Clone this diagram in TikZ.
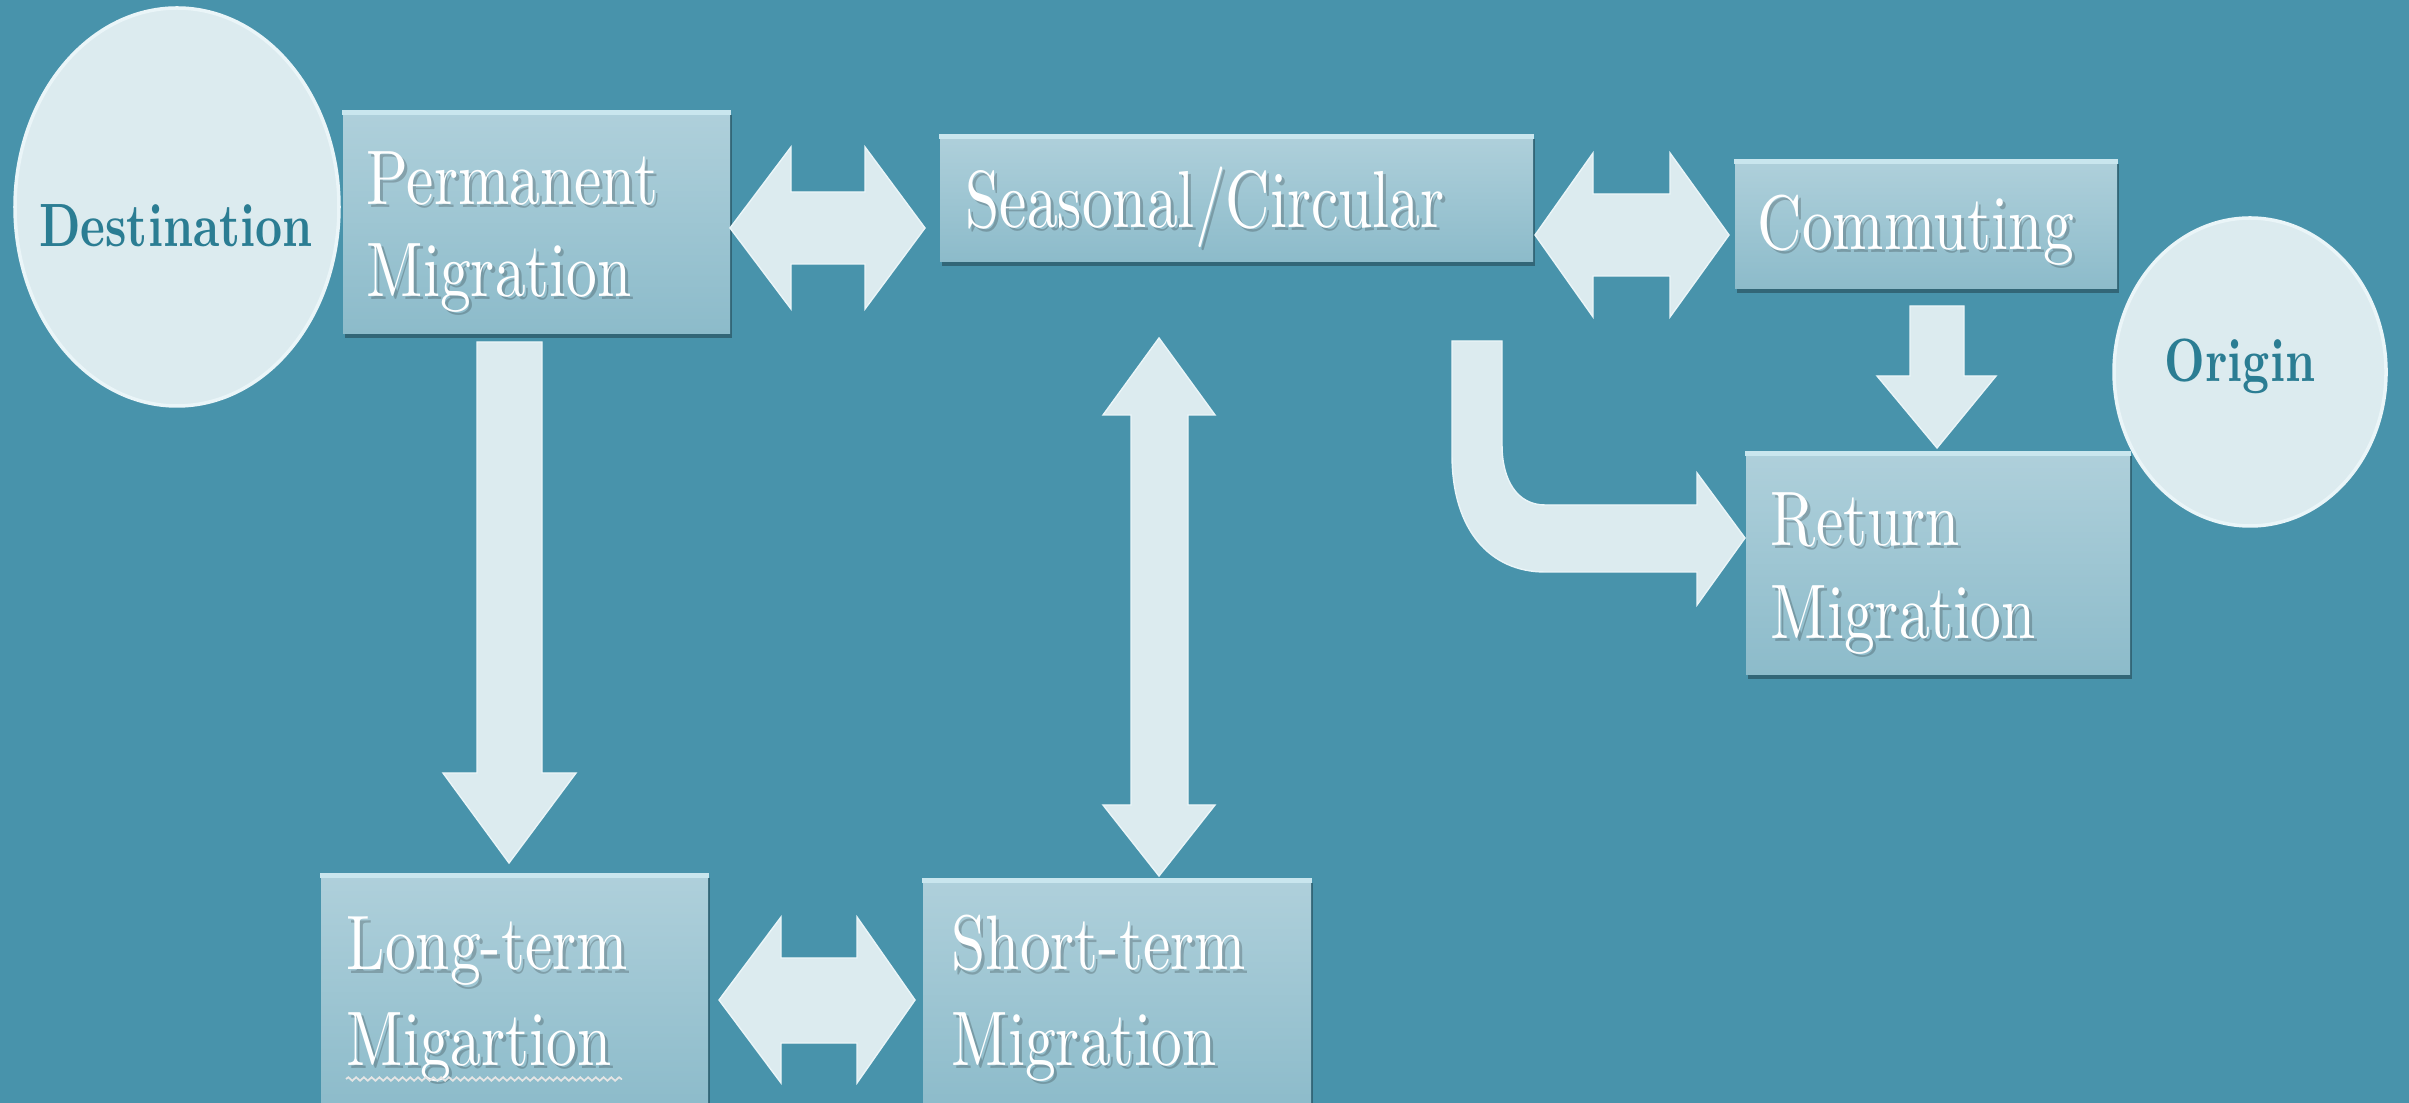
\documentclass[tikz,border=0pt]{standalone}
\usepackage{graphicx}
\usetikzlibrary{shapes.geometric,shadows,fit,decorations.pathmorphing}
\definecolor{bg}{HTML}{4893AB}
\definecolor{boxtop}{HTML}{AFD0DB}
\definecolor{boxbot}{HTML}{8CBBCA}
\definecolor{pale}{HTML}{DCEBEF}
\definecolor{rim}{HTML}{EAF5F8}
\definecolor{ovaltext}{HTML}{2B7D93}
\definecolor{boxedge}{HTML}{C9E6EE}
\newcommand\cnd[1]{\scalebox{1.75}[2.2]{#1}}
\newcommand\cndS[1]{\scalebox{1.75}[2.3]{#1}}
\newcommand\cndB[1]{\scalebox{1.34}[1.74]{#1}}
\begin{document}
\begin{tikzpicture}[x=0.1mm,y=-0.1mm,
  panel/.style={draw=none, top color=boxtop, bottom color=boxbot, inner sep=0pt,
    drop shadow={shadow xshift=0.5pt, shadow yshift=-1.2pt, opacity=0.3, fill=black}},
  oval/.style={ellipse, fill=pale, draw=rim, line width=1pt, inner sep=0pt},
  ovaltxt/.style={inner sep=0pt, text=ovaltext, font=\fontsize{10}{12}\selectfont\bfseries},
  boxtxt/.style={inner sep=0pt, anchor=base west, text=white, font=\fontsize{10}{12}\selectfont},
  txtshadow/.style={text=black, opacity=0.2},
  arr/.style={fill=pale, draw=rim, line width=0.4pt},
  topline/.style={boxedge, line width=1.3pt}
]
\useasboundingbox (0,0) rectangle (2409,1103);
\fill[bg] (0,0) rectangle (2409,1103);

% ellipses
\node[oval, minimum width=32.4mm, minimum height=39.8mm] (dest) at (177,207) {};
\node[ovaltxt, anchor=base] (destt) at (176,247) {\cndB{Destination}};
\node[oval, minimum width=27.2mm, minimum height=30.8mm] (orig) at (2250,372) {};
\node[ovaltxt, anchor=base] (origt) at (2240,382) {\cndB{Origin}};

% boxes
\node[panel, fit={(343,111) (730,334)}] (pm) {};
\node[panel, fit={(940,135) (1533,262)}] (sc) {};
\node[panel, fit={(1735,160) (2117,289)}] (cm) {};
\node[panel, fit={(1746,452) (2130,675)}] (rm) {};
\node[panel, fit={(321,874) (708,1110)}] (lt) {};
\node[panel, fit={(923,879) (1311,1110)}] (st) {};
\foreach \b in {pm,sc,cm,rm,lt,st}
  \draw[topline] ([yshift=-0.65pt]\b.north west) -- ([yshift=-0.65pt]\b.north east);

% box texts (shadow then text)
\node[boxtxt, txtshadow] at (369,208) {\cnd{Permanent}};
\node[boxtxt] (pm1) at (366,205) {\cnd{Permanent}};
\node[boxtxt, txtshadow] at (369,300) {\cnd{Migration}};
\node[boxtxt] (pm2) at (366,297) {\cnd{Migration}};

\node[boxtxt, txtshadow] at (968,231) {\cndS{Seasonal/Circular}};
\node[boxtxt] (sc1) at (965,228) {\cndS{Seasonal/Circular}};

\node[boxtxt, txtshadow] at (1760,253) {\cnd{Commuting}};
\node[boxtxt] (cm1) at (1757,250) {\cnd{Commuting}};

\node[boxtxt, txtshadow] at (1773,549) {\cnd{Return}};
\node[boxtxt] (rm1) at (1770,546) {\cnd{Return}};
\node[boxtxt, txtshadow] at (1773,642) {\cnd{Migration}};
\node[boxtxt] (rm2) at (1770,639) {\cnd{Migration}};

\node[boxtxt, txtshadow] at (349,973) {\cnd{Long-term}};
\node[boxtxt] (lt1) at (346,970) {\cnd{Long-term}};
\node[boxtxt, txtshadow] at (349,1068) {\cnd{Migartion}};
\node[boxtxt] (lt2) at (346,1065) {\cnd{Migartion}};
\draw[decorate, decoration={snake, amplitude=0.5pt, segment length=2.2pt},
      white!80!gray, line width=0.5pt] (lt2.base west) ++(0,14) -- ++(276,0);

\node[boxtxt, txtshadow] at (954,973) {\cnd{Short-term}};
\node[boxtxt] (st1) at (951,970) {\cnd{Short-term}};
\node[boxtxt, txtshadow] at (954,1068) {\cnd{Migration}};
\node[boxtxt] (st2) at (951,1065) {\cnd{Migration}};

% block arrows
% Permanent <-> Seasonal
\filldraw[arr] (730,228) -- (791,147) -- (791,192) -- (865,192) -- (865,147) -- (925,228)
  -- (865,309) -- (865,264) -- (791,264) -- (791,309) -- cycle;
% Seasonal <-> Commuting
\filldraw[arr] (1535,235) -- (1593,153) -- (1593,194) -- (1670,194) -- (1670,153) -- (1729,235)
  -- (1670,317) -- (1670,276) -- (1593,276) -- (1593,317) -- cycle;
% Commuting -> Return
\filldraw[arr] (1910,306) -- (1964,306) -- (1964,376) -- (1996,376) -- (1937,448)
  -- (1877,376) -- (1910,376) -- cycle;
% Permanent -> Long-term
\filldraw[arr] (477,342) -- (542,342) -- (542,773) -- (576,773) -- (509,863)
  -- (443,773) -- (477,773) -- cycle;
% Seasonal <-> Short-term
\filldraw[arr] (1159,338) -- (1215,415) -- (1188,415) -- (1188,805) -- (1215,805) -- (1159,876)
  -- (1103,805) -- (1131,805) -- (1131,415) -- (1103,415) -- cycle;
% Long-term <-> Short-term
\filldraw[arr] (719,1000) -- (781,917) -- (781,958) -- (857,958) -- (857,917) -- (915,1000)
  -- (857,1083) -- (857,1043) -- (781,1043) -- (781,1083) -- cycle;
% bent arrow Seasonal -> Return
\filldraw[arr] (1452,341) -- (1452,455) .. controls (1452,530) and (1490,572) .. (1545,572)
  -- (1697,572) -- (1697,605) -- (1745,538) -- (1697,473) -- (1697,505) -- (1545,505)
  .. controls (1517,505) and (1502,480) .. (1502,445) -- (1502,341) -- cycle;
\end{tikzpicture}
\end{document}
